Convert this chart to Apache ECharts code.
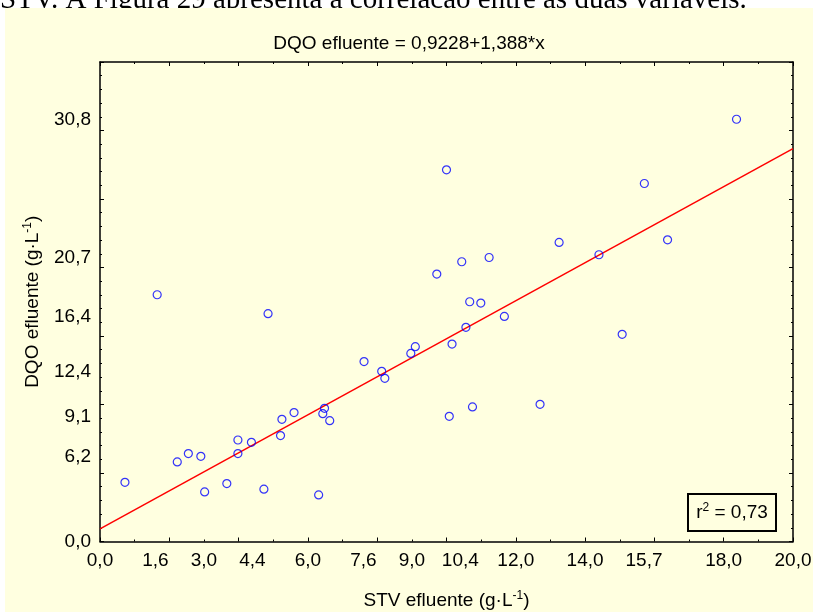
<!DOCTYPE html>
<html lang="pt">
<head>
    <meta charset="utf-8">
    <title>DQO efluente x STV efluente</title>
    <script src="https://cdn.jsdelivr.net/npm/echarts@6/dist/echarts.min.js"></script>
    <style>
        html, body {
            margin: 0;
            padding: 0;
            background: #fff;
        }

        #container {
            width: 818px;
            height: 615px;
        }
    </style>
</head>
<body>
<div id="container"></div>
<script>
    // STV efluente (g/L) e DQO efluente (g/L)
    var stvX = [0.72, 1.65, 2.23, 2.55, 2.91, 3.02, 3.66, 3.98, 3.98, 4.37,
        4.73, 4.85, 5.25, 5.21, 5.60, 6.48, 6.43, 6.63, 6.31, 7.62,
        8.13, 8.22, 8.97, 9.10, 9.72, 10.00, 10.08, 10.16, 10.44, 10.56,
        10.67, 10.75, 10.99, 11.23, 11.67, 12.70, 13.25, 14.40, 15.07, 15.71,
        16.38, 18.37];
    var dqoY = [4.32, 18.01, 5.81, 6.42, 6.22, 3.62, 4.23, 7.41, 6.42, 7.24,
        3.82, 16.63, 8.92, 7.73, 9.41, 9.72, 9.33, 8.82, 3.40, 13.13,
        12.42, 11.91, 13.73, 14.22, 19.52, 27.13, 9.14, 14.41, 20.42, 15.63,
        17.50, 9.82, 17.40, 20.73, 16.43, 10.01, 21.83, 20.93, 15.12, 26.13,
        22.02, 30.82];

    // reta ajustada: DQO = 0,9228 + 1,388*x
    var fitX = [0, 20];
    var fitY = [0.92, 28.68];

    var xLabelValues = [0, 1.6, 3.0, 4.4, 6.0, 7.6, 9.0, 10.4, 12.0, 14.0, 15.7, 18.0, 20.0];
    var yLabelValues = [0, 6.2, 9.1, 12.4, 16.4, 20.7, 30.8];

    var font = 'Liberation Sans, Arial, sans-serif';
    var bg = '#ffffe0';

    function fmt(v) {
        return v.toFixed(1).replace('.', ',');
    }

    function boxAxis(extra) {
        var ax = {
            type: 'value',
            axisLine: {show: true, onZero: false, lineStyle: {color: '#000', width: 1.5}},
            axisTick: {show: true, inside: true, length: 4, lineStyle: {color: '#000', width: 1}},
            minorTick: {show: true, length: 2, lineStyle: {color: '#000', width: 1}},
            splitLine: {show: false},
            minorSplitLine: {show: false},
            axisLabel: {show: false}
        };
        for (var k in extra) ax[k] = extra[k];
        return ax;
    }

    var points = [];
    for (var i = 0; i < stvX.length; i++) {
        points.push([stvX[i], dqoY[i]]);
    }
    var fitLine = [];
    for (var j = 0; j < fitX.length; j++) {
        fitLine.push([fitX[j], fitY[j]]);
    }

    var myChart = echarts.init(document.getElementById('container'));
    var option = {
        backgroundColor: '#fff',
        animation: false,
        title: {
            text: 'DQO efluente = 0,9228+1,388*x',
            left: 'center',
            top: 29,
            textStyle: {fontFamily: font, fontSize: 19, fontWeight: 'normal', color: '#000'}
        },
        graphic: [
            {
                type: 'text',
                z: -20,
                style: {
                    text: 'STV. A Figura 29 apresenta a correlação entre as duas variáveis.',
                    x: 0,
                    y: 15,
                    verticalAlign: 'bottom',
                    font: '29px "Liberation Serif", "Times New Roman", serif',
                    fill: '#000'
                }
            },
            {
                type: 'rect',
                z: -10,
                shape: {x: 5, y: 8, width: 808, height: 604},
                style: {fill: bg}
            },
            {
                type: 'rect',
                z: 10,
                shape: {x: 688, y: 494, width: 88, height: 37},
                style: {fill: bg, stroke: '#000', lineWidth: 2}
            },
            {
                type: 'text',
                z: 11,
                style: {
                    text: '{a|r}{s|2}{a| = 0,73}',
                    x: 732,
                    y: 513,
                    align: 'center',
                    verticalAlign: 'middle',
                    rich: {
                        a: {fontFamily: font, fontSize: 19, color: '#000', lineHeight: 22},
                        s: {fontFamily: font, fontSize: 12, color: '#000', lineHeight: 12, verticalAlign: 'top'}
                    }
                }
            }
        ],
        grid: {
            left: 100,
            right: 25,
            top: 62,
            bottom: 73,
            show: true,
            backgroundColor: bg,
            borderColor: '#000',
            borderWidth: 0
        },
        xAxis: [
            boxAxis({
                position: 'bottom',
                min: 0,
                max: 20,
                interval: 2,
                minorTick: {show: true, splitNumber: 2, length: 2, lineStyle: {color: '#000'}},
                axisLabel: {
                    show: true,
                    customValues: xLabelValues,
                    formatter: fmt,
                    margin: 10,
                    fontFamily: font,
                    fontSize: 19,
                    color: '#000'
                },
                name: '{t|STV efluente (g·L}{s|-1}{t|)}',
                nameLocation: 'middle',
                nameGap: 48,
                nameTextStyle: {
                    rich: {
                        t: {fontFamily: font, fontSize: 19, color: '#000', lineHeight: 22},
                        s: {fontFamily: font, fontSize: 12, color: '#000', lineHeight: 12, verticalAlign: 'top'}
                    }
                }
            }),
            boxAxis({
                position: 'top',
                min: 0,
                max: 20,
                interval: 2,
                minorTick: {show: true, splitNumber: 2, length: 2, lineStyle: {color: '#000'}}
            })
        ],
        yAxis: [
            boxAxis({
                position: 'left',
                min: 0,
                max: 35,
                interval: 5,
                minorTick: {show: true, splitNumber: 5, length: 2, lineStyle: {color: '#000'}},
                axisLabel: {
                    show: true,
                    customValues: yLabelValues,
                    formatter: fmt,
                    margin: 9,
                    fontFamily: font,
                    fontSize: 19,
                    color: '#000'
                },
                name: '{t|DQO efluente (g·L}{s|-1}{t|)}',
                nameLocation: 'middle',
                nameGap: 56,
                nameTextStyle: {
                    rich: {
                        t: {fontFamily: font, fontSize: 19, color: '#000', lineHeight: 22},
                        s: {fontFamily: font, fontSize: 12, color: '#000', lineHeight: 12, verticalAlign: 'top'}
                    }
                }
            }),
            boxAxis({
                position: 'right',
                min: 0,
                max: 35,
                interval: 5,
                minorTick: {show: true, splitNumber: 5, length: 2, lineStyle: {color: '#000'}}
            })
        ],
        series: [
            {
                name: 'ajuste',
                type: 'line',
                data: fitLine,
                showSymbol: false,
                z: 3,
                lineStyle: {color: '#ff0000', width: 1.5}
            },
            {
                name: 'dados',
                type: 'scatter',
                data: points,
                symbol: 'circle',
                symbolSize: 8,
                z: 4,
                itemStyle: {color: 'rgba(0,0,0,0)', borderColor: '#0000ff', borderWidth: 1.2}
            }
        ]
    };
    myChart.setOption(option);
</script>
</body>
</html>
